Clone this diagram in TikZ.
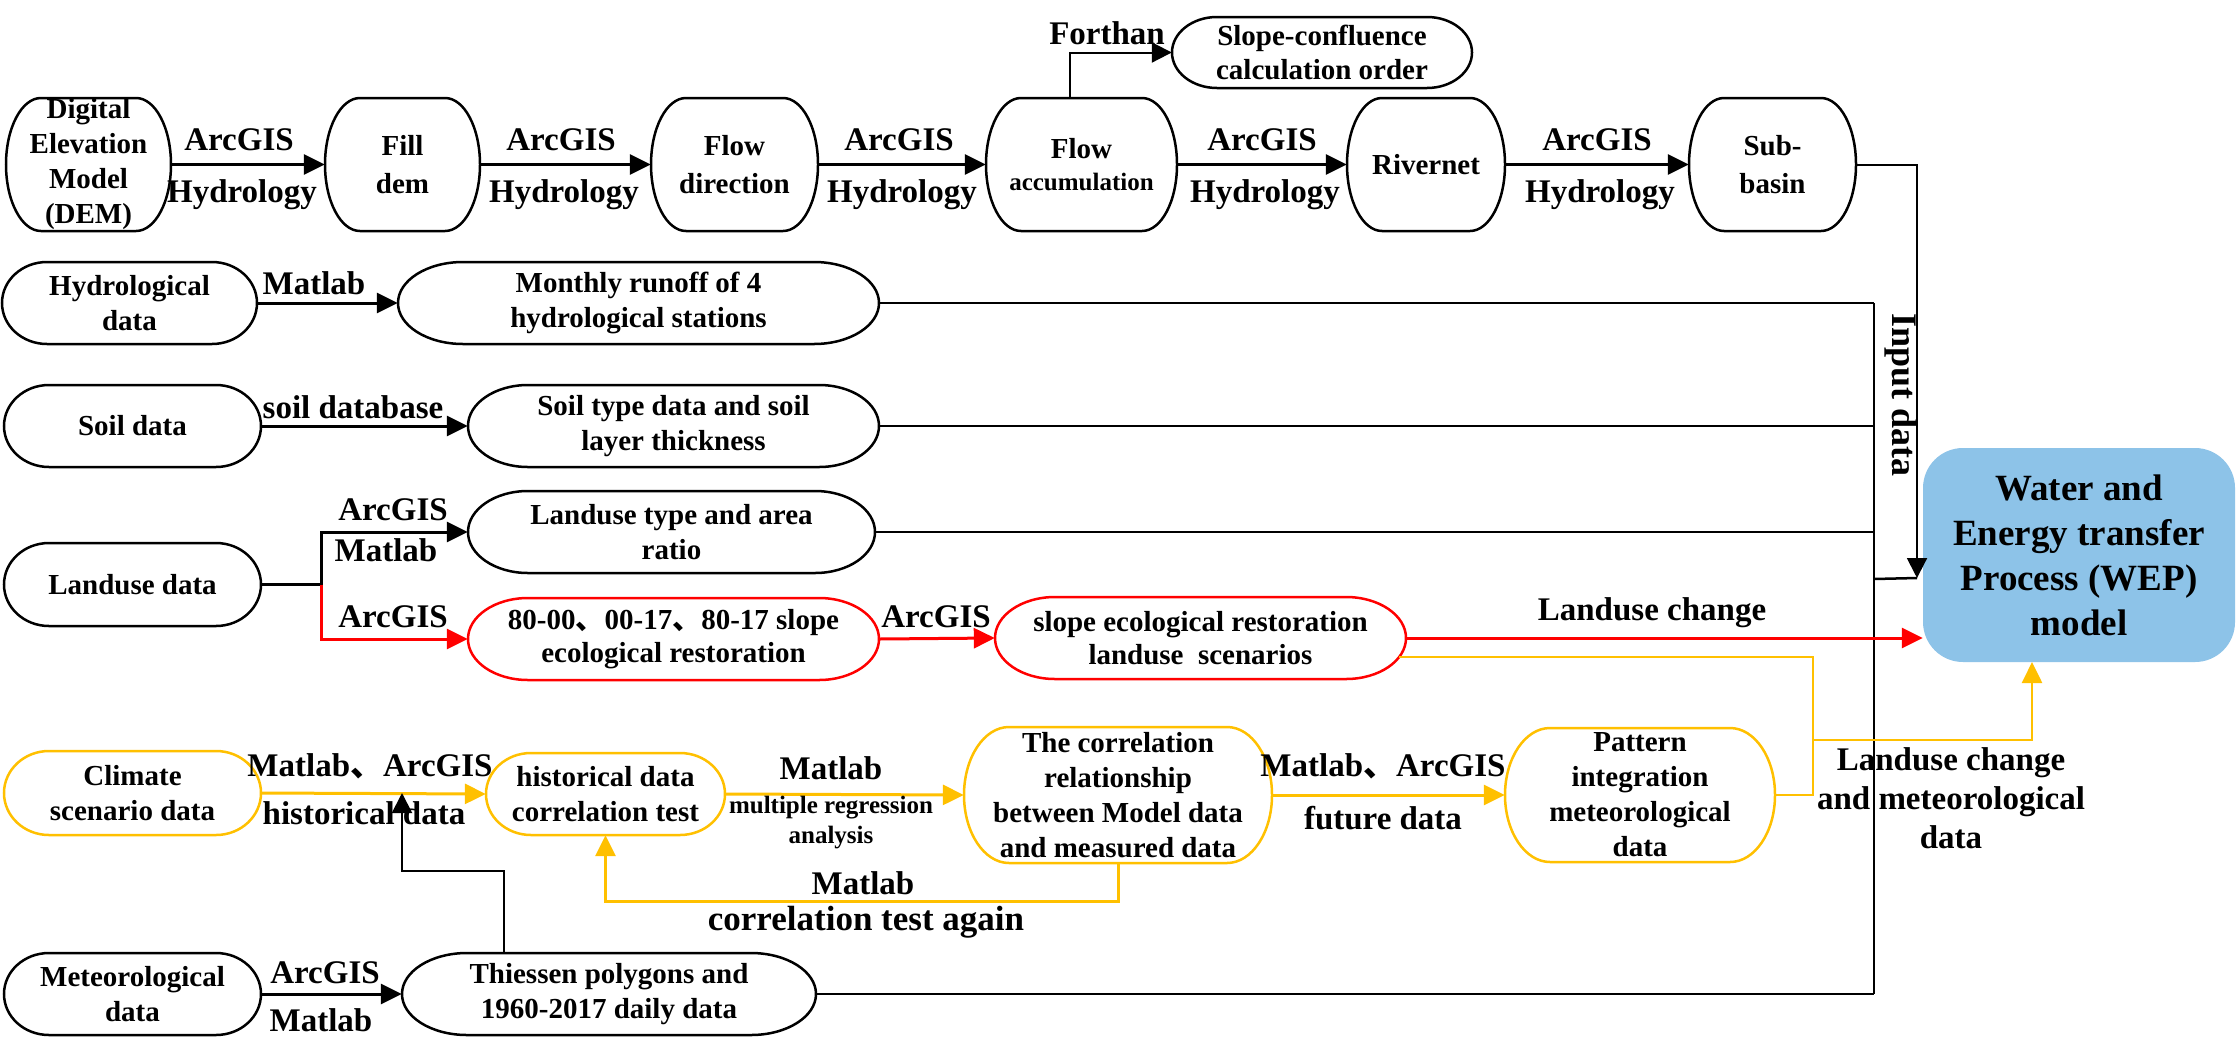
\documentclass[tikz,border=0pt]{standalone}
\usepackage{fontspec}
\setmainfont{Liberation Serif}
\newfontfamily\cjk{Noto Sans CJK SC}
\usetikzlibrary{arrows.meta,calc}
\definecolor{myyel}{HTML}{FFC000}
\definecolor{myred}{HTML}{FF0000}
\definecolor{wepblue}{HTML}{8DC3E8}
\newcommand{\cjkc}{{\cjk 、}}
\tikzset{
  boxtxt/.style={inner sep=0pt, align=center, font=\bfseries\fontsize{29}{35}\selectfont},
  tltwo/.style={font=\bfseries\fontsize{29}{38}\selectfont},
  bl/.style={line width=2.5pt, draw=black},
  lab/.style={inner sep=0pt, align=center, font=\bfseries\fontsize{33}{39}\selectfont},
  ar/.style={line width=3pt, -{Triangle[length=21pt,width=20pt]}},
  thinar/.style={line width=2pt, -{Triangle[length=20pt,width=20pt]}},
  ln/.style={line width=2.5pt},
  yl/.style={line width=2.5pt, draw=myyel},
}
% name, x1, x2, y1(top), y2(bottom), end radius, draw options, text, node options
\newcommand{\tb}[9]{%
  \node[boxtxt, minimum width={#3-#2}, minimum height={#5-#4}, #9] (#1) at ({(#2+#3)/2},{-(#4+#5)/2}) {#8};
  \draw[bl,#7] ({#2+#6},-#4) -- ({#3-#6},-#4)
     arc[start angle=90,end angle=-90,x radius=#6,y radius={(#5-#4)/2}]
     -- ({#2+#6},-#5)
     arc[start angle=270,end angle=90,x radius=#6,y radius={(#5-#4)/2}] -- cycle;
}
\begin{document}
\begin{tikzpicture}[x=1pt,y=1pt]
\useasboundingbox (0,0) rectangle (2237,-1058);
\fill[white] (0,0) rectangle (2237,-1058);

% ---- top row
\tb{dem}{6}{171}{98}{231}{35}{}{Digital\\Elevation\\Model\\(DEM)}{}
\tb{fill}{325}{480}{98}{231}{35}{}{Fill\\dem}{tltwo}
\tb{fdir}{651}{818}{98}{231}{35}{}{Flow\\direction}{tltwo}
\tb{facc}{986}{1177}{98}{231}{35}{}{Flow\\{\fontsize{25}{30}\selectfont accumulation}}{font=\bfseries\fontsize{29}{32}\selectfont}
\tb{river}{1347}{1505}{98}{231}{35}{}{Rivernet}{}
\tb{sub}{1689}{1856}{98}{231}{35}{}{Sub-\\basin}{tltwo}
\tb{slope}{1172}{1472}{17}{88}{45}{}{Slope-confluence\\calculation order}{font=\bfseries\fontsize{29}{34}\selectfont}

% ---- data rows
\tb{hyd}{2}{257}{262}{344}{45}{}{Hydrological\\data}{}
\tb{mon}{398}{879}{262}{344}{65}{}{Monthly runoff of 4\\hydrological stations}{}
\tb{soil}{4}{261}{385}{467}{45}{}{Soil data}{}
\tb{stype}{468}{879}{385}{467}{60}{}{Soil type data and soil\\layer thickness}{}
\tb{lud}{4}{261}{543}{626}{45}{}{Landuse data}{}
\tb{lut}{468}{875}{491}{573}{60}{}{Landuse type and area\\ratio}{}
\tb{red1}{468}{879}{598}{680}{60}{draw=myred}{80-00\cjkc00-17\cjkc80-17 slope\\ecological restoration}{font=\bfseries\fontsize{29}{33}\selectfont}
\tb{red2}{995}{1406}{597}{679}{60}{draw=myred}{slope ecological restoration\\landuse\ \ scenarios}{font=\bfseries\fontsize{29}{33}\selectfont}
\tb{cli}{4}{261}{751}{835}{45}{draw=myyel}{Climate\\scenario data}{}
\tb{hist}{486}{725}{753}{835}{45}{draw=myyel}{historical data\\correlation test}{}
\tb{corr}{964}{1272}{727}{863}{45}{draw=myyel}{The correlation\\relationship\\between Model data\\and measured data}{}
\tb{pat}{1505}{1775}{728}{862}{45}{draw=myyel}{Pattern\\integration\\meteorological\\data}{}
\tb{met}{4}{261}{953}{1035}{45}{}{Meteorological\\data}{}
\tb{thi}{402}{816}{953}{1035}{65}{}{Thiessen polygons and\\1960-2017 daily data}{}

% ---- WEP model
\node[fill=wepblue, rounded corners=40pt, minimum width=312, minimum height=214, inner sep=0pt,
      align=center, font=\bfseries\fontsize{37}{45}\selectfont] (wep) at (2079,-555)
      {Water and\\Energy transfer\\Process (WEP)\\model};

% ---- top row connectors
\draw[ar] (dem.east) -- (fill.west);
\draw[ar] (fill.east) -- (fdir.west);
\draw[ar] (fdir.east) -- (facc.west);
\draw[ar] (facc.east) -- (river.west);
\draw[ar] (river.east) -- (sub.west);
\draw[thinar] ([xshift=-12pt]facc.north) |- (slope.west);
\foreach \xx/\nm in {239/a,561/b,899/c,1262/d,1597/e}{
  \node[lab] (arc\nm) at (\xx,-140) {ArcGIS};
  \node[lab] (hyd\nm) at (\xx+3,-195) {Hydrology};
}
\node[lab] (forthan) at (1107,-33) {Forthan};

% ---- collector to WEP
\coordinate (inTip) at (1917,-578);
\coordinate (col) at (1874,-579);
\draw[thinar] (sub.east) -| (inTip);
\draw[ln] (mon.east) -- (mon.east -| col);
\draw[ln] (stype.east) -- (stype.east -| col);
\draw[ln] (lut.east) -- (lut.east -| col);
\draw[ln] (thi.east) -- (thi.east -| col);
\draw[line width=2pt] (mon.east -| col) -- (thi.east -| col);
\draw[ln] (col) -- (inTip);
\node[lab, rotate=-90, font=\bfseries\fontsize{36}{40}\selectfont] (inputlab) at (1901,-395) {Input data};

% ---- data rows connectors
\draw[ar] (hyd.east) -- (mon.west);
\node[lab] (lmat1) at (314,-283) {Matlab};
\draw[ar] (soil.east) -- (stype.west);
\node[lab] (lsoildb) at (353,-407) {soil database};

\coordinate (lj) at (321,-584.5);
\draw[ar] (lud.east) -- (lj) |- (lut.west);
\draw[ar, myred] (lj) |- (red1.west);
\node[lab] (larc1) at (393,-510) {ArcGIS};
\node[lab] (lmat2) at (386,-550) {Matlab};
\node[lab] (larc2) at (393,-617) {ArcGIS};
\draw[ar, myred] (red1.east) -- (red2.west);
\node[lab] (larc3) at (936,-617) {ArcGIS};
\draw[ar, myred] (red2.east) -- (red2.east -| wep.west);
\node[lab] (llc) at (1652,-613) {Landuse change};

% ---- yellow to WEP
\coordinate (ys) at (1399,-657);
\coordinate (yj) at (1813,-740);
\coordinate (wepIn) at (2032,-662);
\draw[yl] (ys) -| (yj);
\draw[yl] (pat.east) -| (yj);
\draw[yl, -{Triangle[length=21pt,width=20pt]}, myyel] (yj) -| (wepIn);
\node[lab] (llcm) at (1951,-798) {Landuse change\\and meteorological\\data};

% ---- climate row
\draw[ar, myyel] (cli.east) -- (hist.west);
\node[lab] (lma1) at (370,-766) {Matlab\cjkc ArcGIS};
\node[lab] (lhd) at (364,-813) {historical data};
\draw[ar, myyel] (hist.east) -- (corr.west);
\node[lab] (lmat3) at (831,-768) {Matlab};
\node[lab, font=\bfseries\fontsize{25}{30}\selectfont] (lmra) at (831,-823) {multiple regression\\analysis};
\draw[ar, myyel] (corr.east) -- (pat.west);
\node[lab] (lma2) at (1383,-766) {Matlab\cjkc ArcGIS};
\node[lab] (lfd) at (1383,-818) {future data};
\draw[ar, myyel] (corr.south) -- ++(0,-38) -| (hist.south);
\node[lab] (lmat4) at (863,-883) {Matlab};
\node[lab, font=\bfseries\fontsize{35}{40}\selectfont] (lcta) at (866,-922) {correlation test again};

% ---- meteorological row
\draw[ar] (met.east) -- (thi.west);
\node[lab] (larc4) at (325,-973) {ArcGIS};
\node[lab] (lmat5) at (321,-1020) {Matlab};
\coordinate (hdTip) at (402,-793);
\draw[thinar] ([xshift=-105pt]thi.north) -- ++(0,82) -| (hdTip);
\end{tikzpicture}
\end{document}
